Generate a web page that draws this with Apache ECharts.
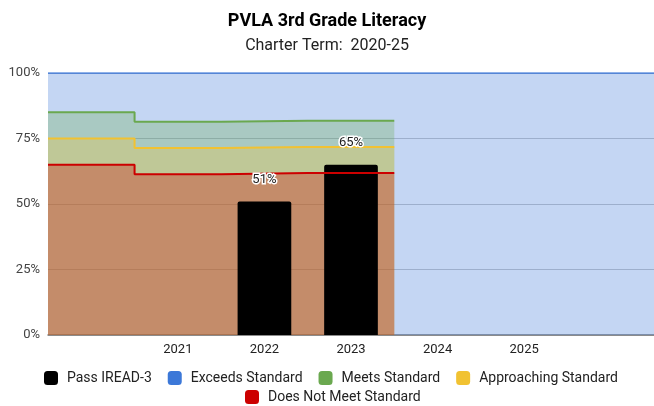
<!DOCTYPE html>
<html>
<head>
<meta charset="utf-8">
<script src="https://cdn.jsdelivr.net/npm/echarts@6/dist/echarts.min.js"></script>
<style>
    html, body { margin: 0; padding: 0; background: #fff; }
    #chart_main { width: 654px; height: 406px; }
</style>
</head>
<body>
<div id="chart_main"></div>
<script>
// x categories (blank slots at both ends, like the sheet)
let years = ['', '2021', '2022', '2023', '2024', '2025', ''];
// black bars
let passIread = [null, null, 51, 65, null, null, null];
// stepped standard bands, one value per category slot (slots 0..3)
let exceedsStd = [100, 100, 100, 100, 100, 100, 100];
let meetsStd = [85, 81.4, 81.8, 81.8];
let approachingStd = [75, 71.4, 71.8, 71.8];
let notMeetStd = [65, 61.4, 61.8, 61.8];
let yTicks = [0, 25, 50, 75, 100];

let colors = {
    pass: '#000000',
    exceeds: '#3c78d8',
    meets: '#6aa84f',
    approaching: '#f1c232',
    notMeet: '#cc0000'
};

// turn per-slot values into points on the hidden 0..7 axis
function stepPoints(arr) {
    let pts = [];
    for (let i = 0; i < arr.length; i++) {
        pts.push([i, arr[i]]);
    }
    pts.push([arr.length, arr[arr.length - 1]]);
    return pts;
}

function areaSeries(name, arr, color) {
    return {
        name: name,
        type: 'line',
        xAxisIndex: 1,
        step: 'end',
        symbol: 'none',
        z: 1,
        silent: true,
        lineStyle: {width: 0},
        itemStyle: {color: color},
        areaStyle: {color: color, opacity: 0.3},
        data: stepPoints(arr)
    };
}

function lineSeries(name, arr, color, width) {
    return {
        name: name,
        type: 'line',
        xAxisIndex: 1,
        step: 'end',
        symbol: 'none',
        z: 3,
        silent: true,
        itemStyle: {color: color},
        lineStyle: {color: color, width: width},
        data: stepPoints(arr)
    };
}

let myChart = echarts.init(document.getElementById('chart_main'));
let font = 'Roboto';

let option = {
    animation: false,
    textStyle: {fontFamily: font},
    title: {
        text: 'PVLA 3rd Grade Literacy',
        subtext: 'Charter Term:  2020-25',
        left: 'center',
        top: 7,
        itemGap: 8,
        textStyle: {fontFamily: font, fontSize: 18, fontWeight: 'bold', color: '#000'},
        subtextStyle: {fontFamily: font, fontSize: 16, color: '#222'}
    },
    legend: [{
        data: ['Pass IREAD-3', 'Exceeds Standard', 'Meets Standard', 'Approaching Standard'],
        left: 44,
        top: 371,
        padding: 0,
        icon: 'roundRect',
        itemWidth: 14,
        itemHeight: 14,
        itemGap: 16,
        textStyle: {fontFamily: font, fontSize: 14, color: '#222', padding: [0, 0, 0, 4]}
    }, {
        data: ['Does Not Meet Standard'],
        left: 245,
        top: 390,
        padding: 0,
        icon: 'roundRect',
        itemWidth: 14,
        itemHeight: 14,
        textStyle: {fontFamily: font, fontSize: 14, color: '#222', padding: [0, 0, 0, 4]}
    }],
    grid: {left: 48, right: -3, top: 73, bottom: 71},
    xAxis: [{
        type: 'category',
        data: years,
        axisTick: {show: false},
        axisLine: {lineStyle: {color: '#777', width: 1.5}},
        axisLabel: {fontFamily: font, fontSize: 13, color: '#222', margin: 8}
    }, {
        type: 'value',
        min: 0,
        max: years.length,
        show: false
    }],
    yAxis: {
        type: 'value',
        min: yTicks[0],
        max: yTicks[yTicks.length - 1],
        interval: 25,
        axisLine: {show: false},
        axisTick: {show: false},
        splitLine: {lineStyle: {color: '#c8c8c8'}},
        axisLabel: {fontFamily: font, fontSize: 13, color: '#444', margin: 8, formatter: '{value}%'}
    },
    series: [
        {
            name: 'Pass IREAD-3',
            type: 'bar',
            barWidth: '62%',
            z: 2,
            itemStyle: {color: colors.pass, borderRadius: [2, 2, 0, 0]},
            data: passIread
        },
        areaSeries('Exceeds Standard', exceedsStd, colors.exceeds),
        areaSeries('Meets Standard', meetsStd, colors.meets),
        areaSeries('Approaching Standard', approachingStd, colors.approaching),
        areaSeries('Does Not Meet Standard', notMeetStd, colors.notMeet),
        lineSeries('Exceeds Standard', exceedsStd, colors.exceeds, 1.5),
        lineSeries('Meets Standard', meetsStd, colors.meets, 2),
        lineSeries('Approaching Standard', approachingStd, colors.approaching, 2),
        lineSeries('Does Not Meet Standard', notMeetStd, colors.notMeet, 2),
        {
            // labels only, kept above the step lines
            name: 'Pass IREAD-3',
            type: 'bar',
            barWidth: '62%',
            barGap: '-100%',
            z: 5,
            silent: true,
            itemStyle: {color: 'rgba(0,0,0,0)'},
            label: {
                show: true,
                position: 'top',
                distance: 15,
                formatter: '{c}%',
                fontFamily: font,
                fontSize: 13,
                color: '#222',
                textBorderColor: '#fff',
                textBorderWidth: 3
            },
            data: passIread
        }
    ]
};
myChart.setOption(option);
</script>
</body>
</html>
